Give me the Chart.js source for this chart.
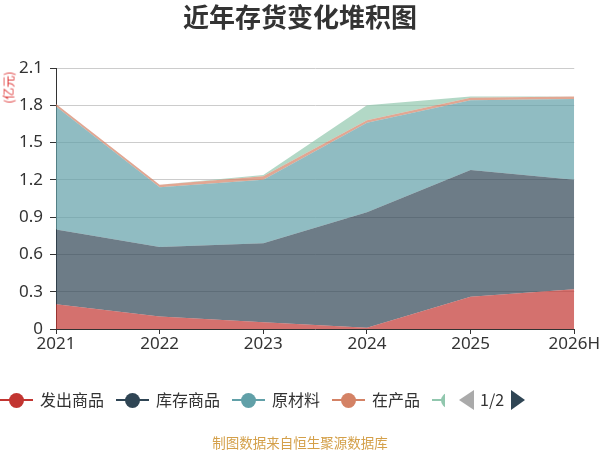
<!DOCTYPE html>
<html>
<head>
<meta charset="utf-8">
<script src="https://cdn.jsdelivr.net/npm/chart.js@4"></script>
<style>
    body { margin: 0; background: #fff; font-family: "Noto Sans CJK SC", "Noto Sans", sans-serif; }
    #wrap { position: relative; width: 600px; height: 450px; overflow: hidden; }
    #title { position: absolute; top: -3px; left: 0; width: 600px; text-align: center; font-size: 26px; font-weight: bold; color: #333; }
    #unit { position: absolute; left: -8px; top: 79px; font-size: 12px; color: #dd3333; transform: rotate(-90deg); transform-origin: center; }
    #legend { position: absolute; top: 388px; left: 0; height: 24px; font-size: 16px; color: #333; }
    .item { position: absolute; top: 0; height: 24px; line-height: 24px; white-space: nowrap; }
    .icon { position: absolute; top: 11px; width: 33px; height: 2px; }
    .dot { position: absolute; top: -6px; left: 9px; width: 15px; height: 15px; border-radius: 50%; }
    .label { position: absolute; left: 40px; top: -1px; }
    #footer { position: absolute; top: 432px; left: 0; width: 600px; text-align: center; font-size: 13.5px; color: #d4a04a; }
</style>
</head>
<body>
<div id="wrap">
    <canvas id="areaChart" width="600" height="450"></canvas>
    <div id="title">近年存货变化堆积图</div>
    <div id="unit">(亿元)</div>
    <div id="legend"></div>
    <div id="footer">制图数据来自恒生聚源数据库</div>
</div>
<script>
// données (亿元)
const years = ['2021', '2022', '2023', '2024', '2025', '2026H'];
const seriesNames = ['发出商品', '库存商品', '原材料', '在产品', '周转材料'];
const faChu = [0.2, 0.1, 0.055, 0.01, 0.26, 0.32];
const kuCun = [0.6, 0.56, 0.635, 0.93, 1.02, 0.88];
const yuanCai = [0.99, 0.48, 0.51, 0.72, 0.56, 0.65];
const zaiChan = [0.02, 0.02, 0.03, 0.02, 0.02, 0.02];
const zhouZhuan = [0, 0, 0.01, 0.12, 0.01, 0];
const yTicks = [0, 0.3, 0.6, 0.9, 1.2, 1.5, 1.8, 2.1];

const colors = ['#c23531', '#2f4554', '#61a0a8', '#d48265', '#91c7ae'];
const values = [faChu, kuCun, yuanCai, zaiChan, zhouZhuan];

function hexA(hex, a) {
    const n = parseInt(hex.slice(1), 16);
    return 'rgba(' + (n >> 16) + ',' + ((n >> 8) & 255) + ',' + (n & 255) + ',' + a + ')';
}

const datasets = seriesNames.map(function(name, i) {
    return {
        label: name,
        data: values[i],
        backgroundColor: hexA(colors[i], 0.7),
        borderColor: hexA(colors[i], 0.7),
        borderWidth: 0,
        pointRadius: 0,
        fill: i === 0 ? 'origin' : '-1',
        tension: 0
    };
});

new Chart(document.getElementById('areaChart'), {
    type: 'line',
    data: { labels: years, datasets: datasets },
    options: {
        responsive: false,
        animation: false,
        layout: { padding: { left: 0, right: 24, top: 68, bottom: 91 } },
        plugins: { legend: { display: false }, tooltip: { enabled: false } },
        scales: {
            x: {
                offset: false,
                grid: { drawOnChartArea: false, drawTicks: true, tickLength: 5, color: '#333' },
                border: { color: '#333', width: 1 },
                ticks: { color: '#333', font: { size: 17, family: 'Noto Sans' }, padding: 0, maxRotation: 0, autoSkip: false },
                afterFit: function(s) { s.height = 30; }
            },
            y: {
                stacked: true,
                min: 0,
                max: 2.1,
                afterBuildTicks: function(s) { s.ticks = yTicks.map(function(v) { return { value: v }; }); },
                grid: { color: '#ccc', tickLength: 6, tickColor: '#333' },
                border: { color: '#333', width: 1 },
                ticks: {
                    color: '#333',
                    font: { size: 17, family: 'Noto Sans' },
                    padding: 7,
                    callback: function(v) { return v === 0 ? '0' : v.toFixed(1); }
                },
                afterFit: function(s) { s.width = 56; }
            }
        }
    }
});

// légende façon défilement (page 1/2)
const legend = document.getElementById('legend');
const itemX = [0, 116, 232, 332, 432];
seriesNames.forEach(function(name, i) {
    const it = document.createElement('div');
    it.className = 'item';
    it.style.left = itemX[i] + 'px';
    if (i === 4) { it.style.width = '13px'; it.style.overflow = 'hidden'; it.style.height = '30px'; it.style.top = '-4px'; }
    const ic = document.createElement('div');
    ic.className = 'icon';
    ic.style.background = colors[i];
    if (i === 4) ic.style.top = '15px';
    const dot = document.createElement('div');
    dot.className = 'dot';
    dot.style.background = colors[i];
    ic.appendChild(dot);
    it.appendChild(ic);
    const lb = document.createElement('span');
    lb.className = 'label';
    lb.textContent = name;
    it.appendChild(lb);
    legend.appendChild(it);
});
const nav = document.createElement('div');
nav.className = 'item';
nav.style.left = '459px';
nav.innerHTML = '<svg width="15" height="20" style="position:absolute;top:2px;left:0"><polygon points="15,0 15,20 0,10" fill="#aaa"/></svg>' +
    '<span style="position:absolute;left:21px;top:-1px">1/2</span>' +
    '<svg width="14" height="20" style="position:absolute;top:2px;left:52px"><polygon points="0,0 0,20 14,10" fill="#2f4554"/></svg>';
legend.appendChild(nav);
</script>
</body>
</html>
